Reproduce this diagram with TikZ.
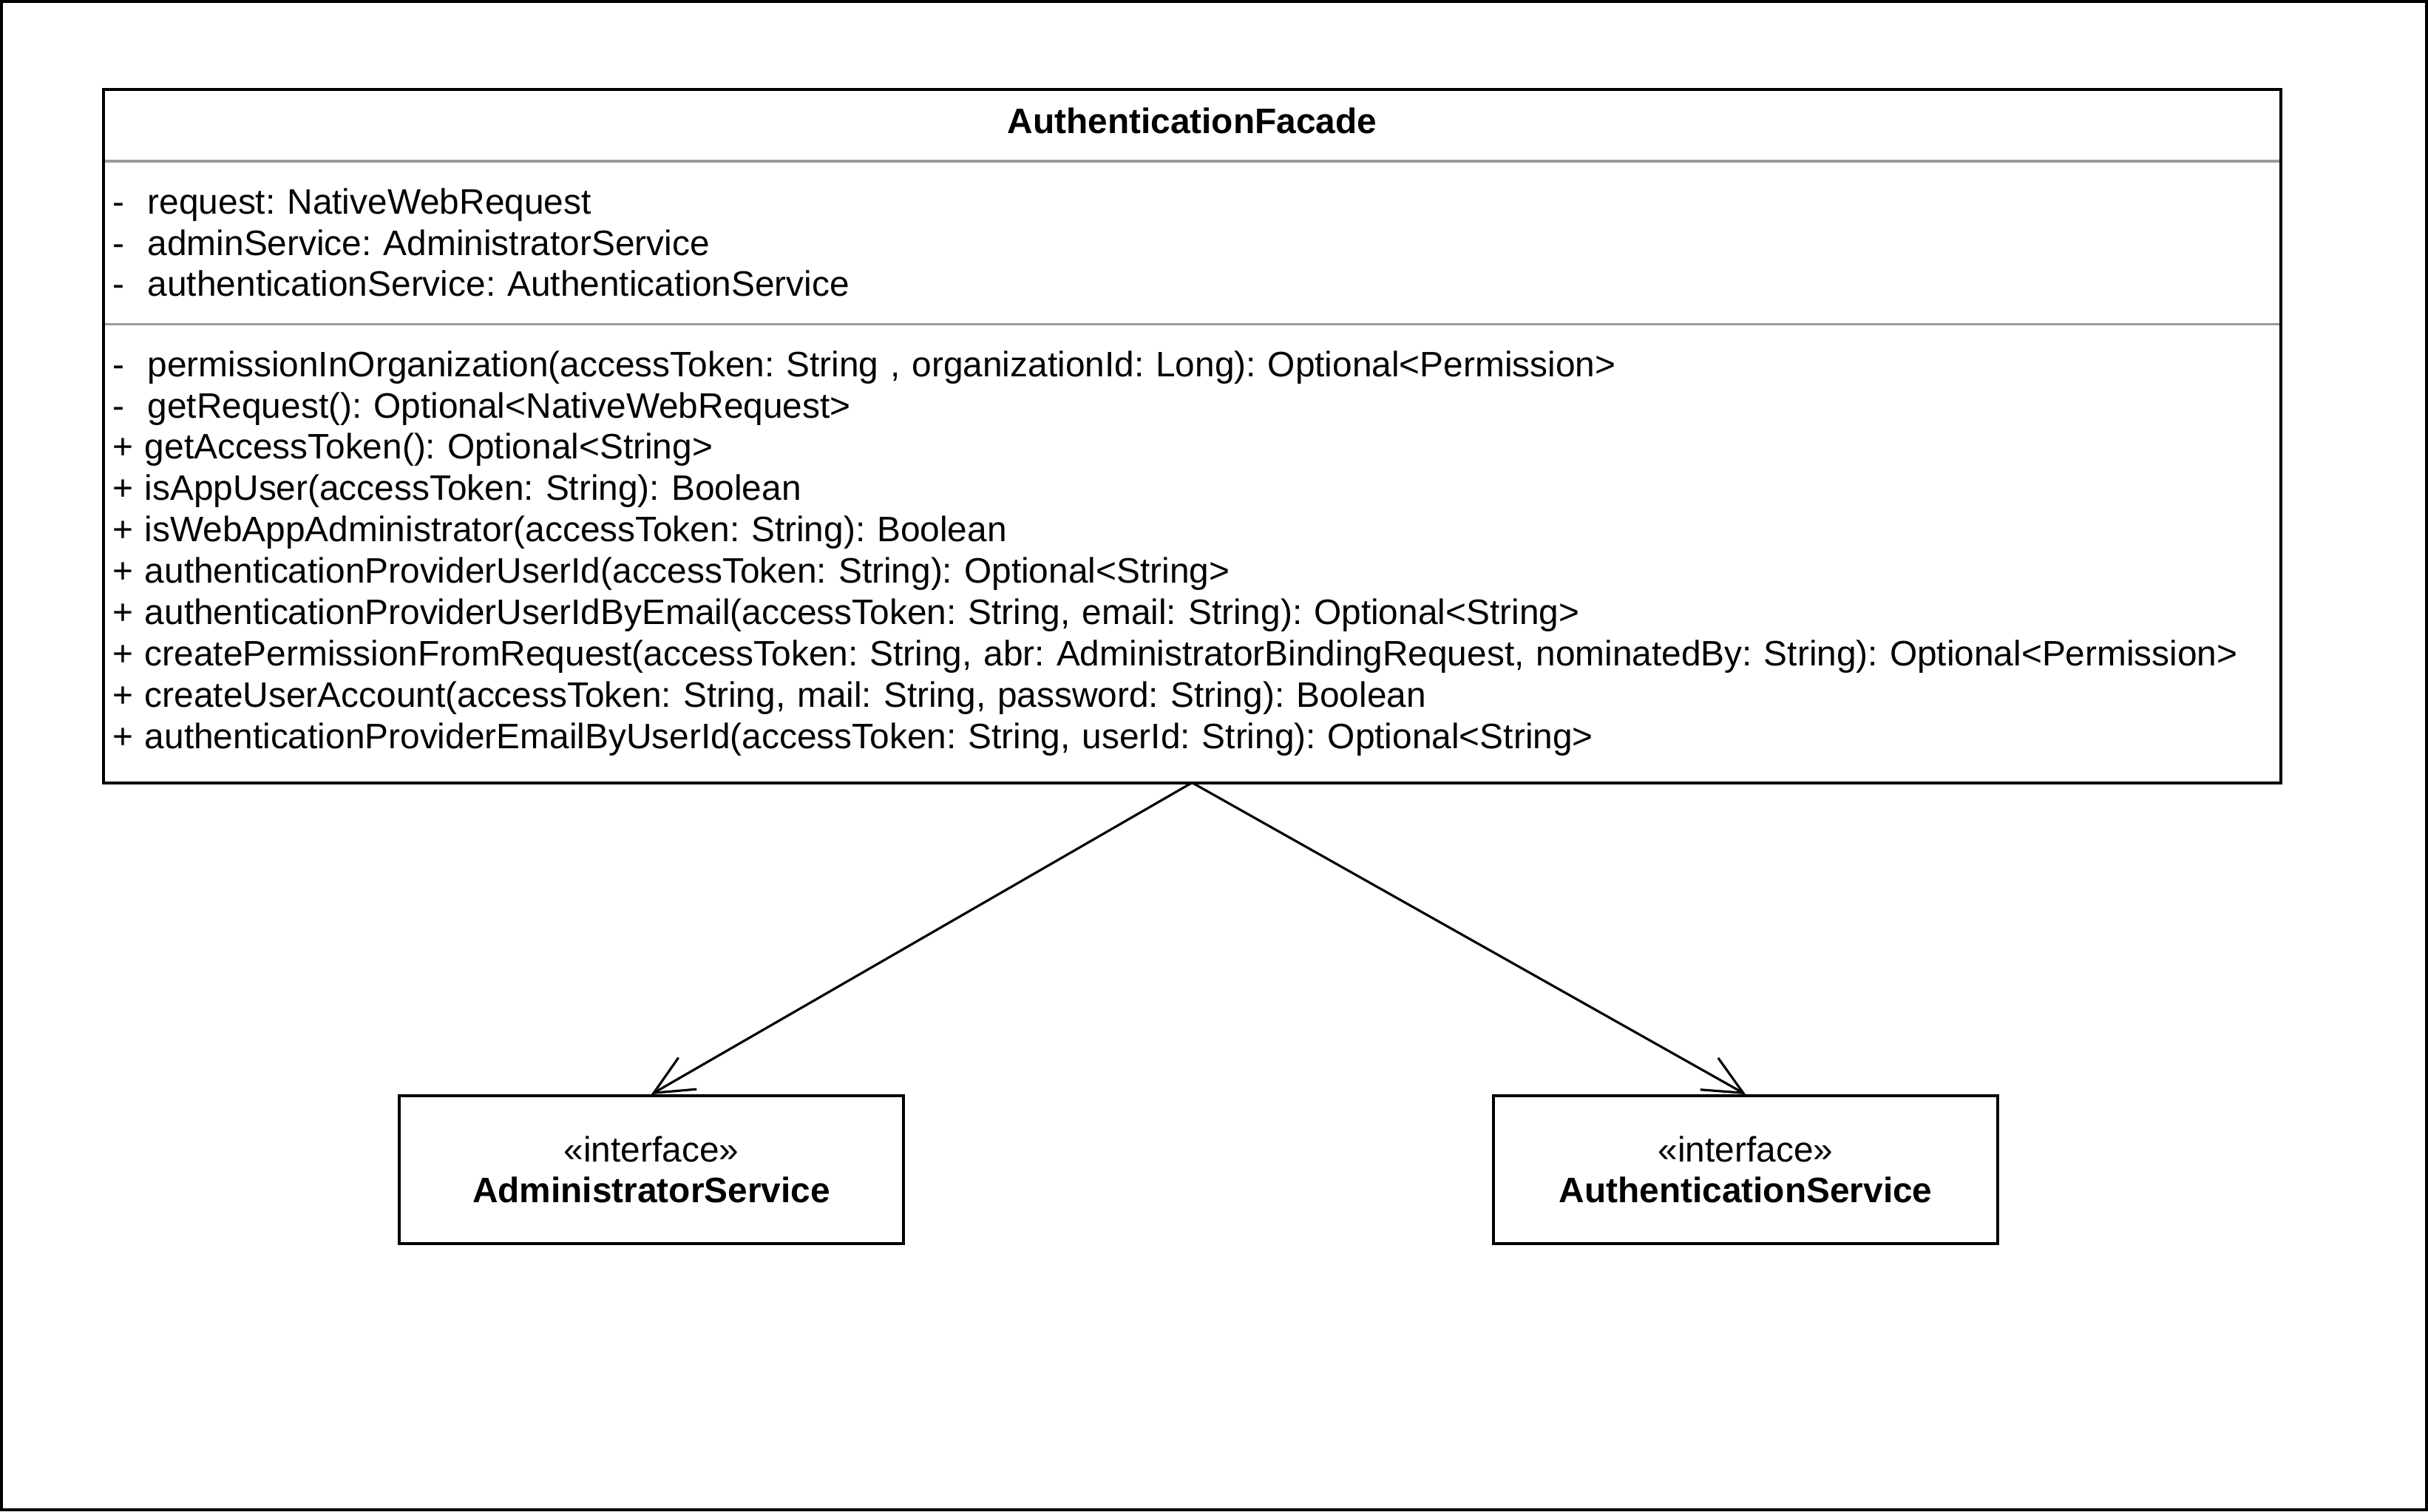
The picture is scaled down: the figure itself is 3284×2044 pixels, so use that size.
\documentclass[tikz,border=0pt]{standalone}
\usepackage{fontspec}
\setmainfont{Liberation Sans}
\usetikzlibrary{arrows.meta, positioning}
\frenchspacing

\begin{document}
\begin{tikzpicture}[x=0.01cm, y=-0.01cm, node distance=0pt]

    \tikzstyle{compartment} = [rectangle, inner xsep=0.12cm, inner ysep=0pt, outer sep=0pt, text width=29.19cm, font=\fontsize{13.6}{15.8}\selectfont]
    \tikzstyle{iface} = [rectangle, draw, line width=1.1pt, minimum width=6.82cm, minimum height=2cm, align=center, font=\fontsize{13.6}{15.8}\selectfont]
    \tikzstyle{separator} = [black!40, line width=0.9pt]
    \tikzstyle{arrow} = [line width=0.9pt, -{Straight Barb[length=15pt, width=14pt]}]

    \useasboundingbox (0,0) rectangle (3284,2044);
    \draw[line width=1.1pt] (2,2) rectangle (3282,2042);

    \node (facade) [compartment, align=center, minimum height=0.97cm, text depth=0.12cm, anchor=north west] at (140,121) {\textbf{AuthenticationFacade}};
    \node (attrs) [compartment, align=left, minimum height=2.2cm, below=of facade] {-\ \ request: NativeWebRequest\\
        -\ \ adminService: AdministratorService\\
        -\ \ authenticationService: AuthenticationService};
    \node (methods) [compartment, align=left, minimum height=6.2cm, font=\fontsize{13.6}{15.9}\selectfont, below=of attrs] {-\ \ permissionInOrganization(accessToken: String , organizationId: Long): Optional<Permission>\\
        -\ \ getRequest(): Optional<NativeWebRequest>\\
        + getAccessToken(): Optional<String>\\
        + isAppUser(accessToken: String): Boolean\\
        + isWebAppAdministrator(accessToken: String): Boolean\\
        + authenticationProviderUserId(accessToken: String): Optional<String>\\
        + authenticationProviderUserIdByEmail(accessToken: String, email: String): Optional<String>\\
        + createPermissionFromRequest(accessToken: String, abr: AdministratorBindingRequest, nominatedBy: String): Optional<Permission>\\
        + createUserAccount(accessToken: String, mail: String, password: String): Boolean\\
        + authenticationProviderEmailByUserId(accessToken: String, userId: String): Optional<String>};

    \draw[separator] (facade.south west) -- (facade.south east);
    \draw[separator] (attrs.south west) -- (attrs.south east);
    \draw[line width=1.1pt] (facade.north west) rectangle (methods.south east);

    \node (admin) [iface] at (881,1582) {«interface»\\\textbf{AdministratorService}};
    \node (auth) [iface] at (2361,1582) {«interface»\\\textbf{AuthenticationService}};

    \draw[arrow] (methods.south) -- (admin.north);
    \draw[arrow] (methods.south) -- (auth.north);

\end{tikzpicture}
\end{document}
